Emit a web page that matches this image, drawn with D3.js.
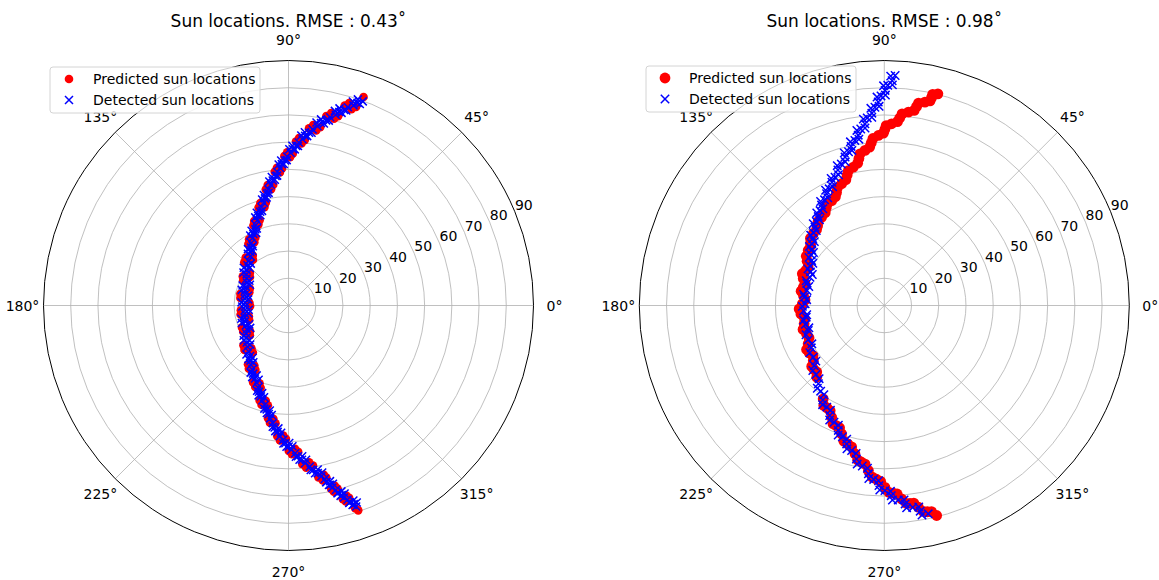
<!DOCTYPE html>
<html>
<head>
<meta charset="utf-8">
<script src="https://cdn.jsdelivr.net/npm/d3@7"></script>
<style>
    body { margin: 0; background: #fff; }
    text { font-family: "DejaVu Sans", sans-serif; fill: #000; }
</style>
</head>
<body>
<div id="chart"></div>
<script>
// [azimuth deg, zenith deg]
var leftPredicted = [
    [70.2,81.4],[72.2,75.7],[74.3,76.3],[76.3,70.6],[78.7,71.0],[81.0,65.1],[83.4,65.5],[85.4,59.7],[87.4,60.3],[89.4,54.5],[91.6,54.9],[93.7,49.0],[95.9,49.4],[98.5,43.2],[101.1,43.4],[103.7,37.2],[107.0,37.6],[110.4,31.7],[113.7,32.1],[118.4,26.4],[123.1,27.0],[127.8,21.3],[135.7,22.7],[143.5,17.6],[151.4,19.0],[161.2,15.2],[171.1,17.9],[180.9,14.1],[190.6,17.9],[200.3,15.4],[210.0,19.2],[217.6,17.9],[225.3,23.0],[232.9,21.7],[237.9,27.4],[242.8,26.6],[247.8,32.3],[251.3,31.9],[254.8,37.8],[258.3,37.4],[261.0,43.6],[263.7,43.5],[266.4,49.7],[268.9,49.0],[271.3,54.6],[273.8,53.9],[276.2,59.9],[278.7,59.5],[281.1,65.5],[282.4,64.7],[283.7,70.4],[285.0,69.6],[286.3,75.0],[287.5,74.1],[288.8,79.5],
    [71.2,77.0],[73.3,77.6],[75.3,71.9],[77.5,72.4],[79.9,66.5],[82.2,66.9],[84.4,61.0],[86.4,61.6],[88.4,55.8],[90.5,56.3],[92.7,50.4],[94.8,50.8],[97.2,44.7],[99.8,44.9],[102.4,38.7],[105.4,39.0],[108.7,33.1],[112.1,33.5],[116.1,27.7],[120.8,28.3],[125.5,22.6],[131.8,23.6],[139.6,18.6],[147.5,19.9],[156.3,15.5],[166.2,18.2],[176.0,14.4],[185.8,17.6],[195.5,15.1],[205.2,18.9],[213.8,17.0],[221.5,22.1],[229.1,20.8],[235.4,26.2],[240.4,25.4],[245.3,31.1],[249.6,30.5],[253.1,36.5],[256.6,36.0],[259.7,42.1],[262.4,42.0],[265.1,48.2],[267.7,47.8],[270.1,53.4],[272.6,52.7],[275.0,58.5],[277.5,58.1],[279.9,64.1],[281.8,63.5],[283.1,69.2],[284.4,68.4],[285.7,73.9],[286.9,73.0],[288.2,78.4]
];
var leftDetected = [
    [70.5,78.5],[72.5,78.6],[74.6,73.4],[76.6,73.5],[79.0,68.1],[81.3,68.0],[83.7,62.6],[85.7,62.6],[87.7,57.4],[89.7,57.4],[91.9,52.0],[94.0,51.9],[96.2,46.5],[98.8,46.1],[101.4,40.5],[104.0,40.1],[107.3,34.7],[110.7,34.6],[114.0,29.2],[118.7,29.3],[123.4,24.1],[128.1,24.2],[136.0,19.8],[143.8,20.5],[151.7,16.1],[161.5,18.1],[171.4,15.0],[181.2,17.0],[190.9,15.0],[200.6,18.3],[210.3,16.3],[217.9,20.8],[225.6,20.1],[233.2,24.6],[238.2,24.5],[243.1,29.5],[248.1,29.4],[251.6,34.8],[255.1,34.9],[258.6,40.3],[261.3,40.7],[264.0,46.4],[266.7,46.8],[269.2,51.9],[271.6,51.7],[274.1,56.8],[276.5,57.0],[279.0,62.4],[281.4,62.6],[282.7,67.6],[284.0,67.5],[285.3,72.5],[286.6,72.1],[287.8,77.0],[289.1,76.6],
    [71.4,79.9],[73.5,74.7],[75.5,74.8],[77.7,69.5],[80.1,69.4],[82.4,64.0],[84.6,63.9],[86.6,58.7],[88.6,58.7],[90.7,53.4],[92.9,53.3],[95.0,47.9],[97.4,47.6],[100.0,42.0],[102.6,41.6],[105.6,36.1],[108.9,36.0],[112.3,30.6],[116.3,30.6],[121.0,25.4],[125.7,25.5],[132.0,20.7],[139.8,21.5],[147.7,17.0],[156.5,18.4],[166.4,15.3],[176.2,17.3],[186.0,14.7],[195.7,18.0],[205.4,16.0],[214.0,19.9],[221.7,19.2],[229.3,23.7],[235.6,23.3],[240.6,28.3],[245.5,28.2],[249.8,33.4],[253.3,33.6],[256.8,38.9],[259.9,39.2],[262.6,44.9],[265.3,45.3],[267.9,50.7],[270.3,50.5],[272.8,55.6],[275.2,55.6],[277.7,61.0],[280.1,61.2],[282.0,66.4],[283.3,66.3],[284.6,71.3],[285.9,71.0],[287.1,75.9],[288.4,75.5],
    [70.0,79.8],[72.0,77.3],[74.1,74.7],[76.1,72.2],[78.5,69.4],[80.8,66.7],[83.2,63.9],[85.2,61.3],[87.2,58.7],[89.2,56.1],[91.4,53.3],[93.5,50.6],[95.7,47.8],[98.3,44.8],[100.9,41.8],[103.5,38.8],[106.8,36.0],[110.2,33.3],[113.5,30.5],[118.2,28.0],[122.9,25.4],[127.6,22.9],[135.5,21.1],[143.3,19.2],[151.2,17.4],[161.0,16.8],[170.9,16.3],[180.7,15.7],[190.4,16.3],[200.1,17.0],[209.8,17.6],[217.4,19.5],[225.1,21.4],[232.7,23.3],[237.7,25.8],[242.6,28.2],[247.6,30.7],[251.1,33.5],[254.6,36.2],[258.1,39.0],[260.8,42.0],[263.5,45.1],[266.2,48.1],[268.7,50.6],[271.1,53.0],[273.6,55.5],[276.0,58.3],[278.5,61.1],[280.9,63.9],[282.2,66.3],[283.5,68.8],[284.8,71.2],[286.1,73.4],[287.3,75.7],[288.6,77.9],
    [71.2,78.6],[73.3,76.0],[75.3,73.5],[77.5,70.8],[79.9,68.1],[82.2,65.3],[84.4,62.6],[86.4,60.0],[88.4,57.4],[90.5,54.7],[92.7,52.0],[94.8,49.2],[97.2,46.3],[99.8,43.3],[102.4,40.3],[105.4,37.4],[108.7,34.7],[112.1,31.9],[116.1,29.3],[120.8,26.7],[125.5,24.2],[131.8,22.0],[139.6,20.2],[147.5,18.3],[156.3,17.1],[166.2,16.6],[176.0,16.0],[185.8,16.0],[195.5,16.7],[205.2,17.3],[213.8,18.6],[221.5,20.5],[229.1,22.4],[235.4,24.6],[240.4,27.0],[245.3,29.5],[249.6,32.1],[253.1,34.9],[256.6,37.6],[259.7,40.5],[262.4,43.6],[265.1,46.6],[267.7,49.4],[270.1,51.8],[272.6,54.3],[275.0,56.9],[277.5,59.7],[279.9,62.5],[281.8,65.1],[283.1,67.6],[284.4,70.0],[285.7,72.3],[286.9,74.6],[288.2,76.8]
];

var rightPredicted = [
    [75.8,80.2],[77.2,78.3],[78.7,76.2],[80.8,74.0],[82.9,71.6],[85.3,69.1],[87.7,66.8],[89.8,64.7],[92.0,62.5],[94.6,59.9],[97.1,57.4],[99.8,54.8],[102.6,52.1],[105.9,49.8],[109.3,47.4],[112.9,45.1],[116.6,43.1],[120.9,41.6],[125.3,39.8],[129.9,38.2],[134.7,37.1],[139.4,35.6],[144.1,34.5],[150.1,32.7],[156.0,31.6],[161.5,31.4],[167.3,30.5],[173.1,29.9],[178.8,30.1],[185.8,30.8],[192.9,30.2],[199.8,30.4],[206.7,31.3],[212.3,32.6],[217.8,33.0],[222.2,34.9],[226.7,36.2],[236.8,41.0],[240.8,43.1],[244.8,45.4],[248.2,47.5],[251.6,49.7],[255.2,52.6],[258.8,55.5],[261.6,58.1],[264.5,60.9],[267.4,63.9],[270.2,66.8],[272.7,69.0],[275.1,71.3],[277.4,73.3],[279.6,75.1],[281.8,77.4],[284.0,79.5],
    [77.1,79.6],[77.4,77.0],[80.4,75.4],[81.3,72.5],[84.7,70.7],[85.9,67.7],[89.4,66.1],[90.3,63.3],[93.9,61.5],[95.3,58.4],[99.1,56.4],[100.6,53.2],[104.9,51.3],[107.0,48.3],[111.7,46.6],[114.2,43.8],[119.4,42.7],[122.5,40.4],[128.2,39.3],[131.7,37.4],[137.7,36.7],[141.2,34.8],[147.7,33.9],[153.1,31.4],[158.8,32.3],[164.4,30.2],[170.2,31.0],[176.0,29.2],[182.3,31.3],[189.4,29.7],[196.4,31.1],[203.3,30.1],[209.5,32.8],[215.1,32.0],[220.0,34.8],[224.5,34.8],[238.8,42.9],[242.8,43.5],[246.5,47.3],[249.9,47.8],[253.4,52.0],[257.0,53.3],[260.2,57.6],[263.1,58.7],[266.0,63.2],[268.8,64.6],[271.5,68.7],[273.9,69.4],[276.3,73.1],[278.5,73.4],[280.7,77.0],[282.9,77.7]
];
var rightDetected = [
    [87.3,84.6],[88.0,82.6],[89.1,80.9],[89.8,79.0],[90.9,77.0],[91.7,74.8],[92.7,72.9],[93.7,70.8],[95.2,69.2],[96.1,67.1],[97.6,65.4],[98.7,63.3],[100.1,61.6],[101.8,59.7],[103.1,58.0],[104.8,56.4],[106.9,54.3],[108.9,52.6],[111.0,50.5],[113.0,49.2],[115.3,47.4],[117.3,46.2],[119.5,44.6],[122.0,43.5],[124.1,42.1],[126.6,40.7],[129.0,39.7],[131.5,38.4],[134.2,37.4],[136.9,36.0],[139.6,35.0],[142.5,33.6],[145.3,32.7],[148.2,31.4],[151.9,30.9],[155.5,29.8],[159.2,29.2],[164.1,29.6],[169.0,28.9],[173.9,29.5],[178.8,29.1],[183.7,29.7],[188.5,29.0],[193.4,29.8],[198.2,29.4],[204.2,30.6],[210.1,31.0],[216.1,32.3],[220.7,33.9],[225.3,35.7],[229.9,37.6],[233.4,39.2],[237.0,41.4],[240.5,42.9],[243.6,45.1],[246.7,46.7],[249.8,48.9],[252.3,50.6],[254.8,52.7],[257.3,54.6],[259.7,57.3],[262.2,59.5],[264.6,62.1],[266.5,64.0],[268.3,66.2],[270.2,68.0],[272.1,69.9],[274.1,71.6],[276.0,73.3],[278.0,74.9],[279.9,76.7],[281.9,78.2],
    [88.4,84.3],[87.9,81.1],[90.2,80.7],[89.7,77.3],[92.0,76.6],[91.5,73.2],[93.9,72.6],[93.8,69.3],[96.4,68.9],[96.2,65.6],[98.9,65.1],[98.7,61.8],[101.7,61.4],[101.8,58.2],[104.7,57.9],[105.2,54.7],[108.6,54.2],[109.3,50.9],[112.7,50.6],[113.5,47.6],[117.0,47.5],[117.7,44.7],[121.5,44.8],[122.4,42.1],[126.1,42.1],[127.1,39.5],[131.0,39.8],[132.2,37.2],[136.3,37.4],[137.6,34.8],[141.8,35.0],[143.2,32.5],[147.5,32.8],[149.4,30.5],[154.4,31.1],[156.7,28.8],[162.4,30.1],[165.9,28.6],[172.2,29.9],[175.7,28.6],
    [180.6,30.1],[186.8,28.7],[190.3,30.1],[196.5,28.9],[200.5,30.7],[207.9,30.1],[212.4,32.4],[219.1,32.4],[222.3,35.5],[228.3,36.0],[231.0,39.1],[235.9,39.6],[238.1,42.9],[242.8,43.3],[244.5,46.6],[249.0,47.1],[250.4,50.5],[254.3,51.0],[255.4,54.4],[259.2,55.3],[260.3,59.1],[264.1,60.1],[264.9,63.8],[268.1,64.4],[268.6,67.8],[271.9,68.3],[272.4,71.5],[275.8,71.8],[276.3,74.8],[279.7,75.1],[280.2,78.2]
];

var titles      = ['Sun locations. RMSE : 0.43\u02DA', 'Sun locations. RMSE : 0.98\u02DA'];
var legendNames = ['Predicted sun locations', 'Detected sun locations'];
var radialTicks = [10, 20, 30, 40, 50, 60, 70, 80, 90];
var angleTicks  = [0, 45, 90, 135, 180, 225, 270, 315];

var panels = [
    { cx: 288.5, cy: 305.5, title: titles[0], pred: leftPredicted,  det: leftDetected,  dot: 4.3, cross: 4.0, legend: { x: 50,  y: 67 } },
    { cx: 884.3, cy: 305.5, title: titles[1], pred: rightPredicted, det: rightDetected, dot: 5.4, cross: 4.2, legend: { x: 646, y: 66 } }
];

var svg = d3.select('#chart').append('svg')
    .attr('width', 1159)
    .attr('height', 580);

var r = d3.scaleLinear().domain([0, 90]).range([0, 245]);
// azimuth in degrees (ccw from east) -> d3 radial angle (cw from north)
var a = d3.scaleLinear().domain([0, 360]).range([Math.PI / 2, Math.PI / 2 - 2 * Math.PI]);

function cross(s) {
    return 'M' + -s + ',' + -s + 'L' + s + ',' + s + 'M' + -s + ',' + s + 'L' + s + ',' + -s;
}

panels.forEach(p => {
    var g = svg.append('g').attr('transform', 'translate(' + p.cx + ',' + p.cy + ')');

    g.selectAll('.ring')
        .data(radialTicks.slice(0, -1))
        .enter().append('circle')
        .attr('r', d => r(d))
        .attr('fill', 'none')
        .attr('stroke', '#b0b0b0')
        .attr('stroke-width', 0.8);

    g.selectAll('.spoke')
        .data(angleTicks)
        .enter().append('line')
        .attr('x1', 0).attr('y1', 0)
        .attr('x2', d => d3.pointRadial(a(d), r(90))[0])
        .attr('y2', d => d3.pointRadial(a(d), r(90))[1])
        .attr('stroke', '#b0b0b0')
        .attr('stroke-width', 0.8);

    g.append('circle')
        .attr('r', r(90))
        .attr('fill', 'none')
        .attr('stroke', '#000')
        .attr('stroke-width', 1);

    g.selectAll('.alabel')
        .data(angleTicks)
        .enter().append('text')
        .attr('x', d => d3.pointRadial(a(d), r(90) + 21)[0])
        .attr('y', d => d3.pointRadial(a(d), r(90) + 21)[1])
        .attr('text-anchor', 'middle')
        .attr('dominant-baseline', 'central')
        .attr('font-size', 14)
        .text(d => d + '\u00B0');

    g.selectAll('.rlabel')
        .data(radialTicks)
        .enter().append('text')
        .attr('x', d => d3.pointRadial(a(22.5), r(d))[0] + 9)
        .attr('y', d => d3.pointRadial(a(22.5), r(d))[1] - 7)
        .attr('text-anchor', 'middle')
        .attr('dominant-baseline', 'central')
        .attr('font-size', 14)
        .text(d => d);

    g.selectAll('.pred')
        .data(p.pred)
        .enter().append('circle')
        .attr('cx', d => d3.pointRadial(a(d[0]), r(d[1]))[0])
        .attr('cy', d => d3.pointRadial(a(d[0]), r(d[1]))[1])
        .attr('r', p.dot)
        .attr('fill', 'red');

    g.selectAll('.det')
        .data(p.det)
        .enter().append('path')
        .attr('transform', d => 'translate(' + d3.pointRadial(a(d[0]), r(d[1])) + ')')
        .attr('d', cross(p.cross))
        .attr('stroke', 'blue')
        .attr('stroke-width', 1.5)
        .attr('fill', 'none');

    svg.append('text')
        .attr('x', p.cx)
        .attr('y', 26.5)
        .attr('text-anchor', 'middle')
        .attr('font-size', 17)
        .text(p.title);

    // legend
    var lg = svg.append('g').attr('transform', 'translate(' + p.legend.x + ',' + p.legend.y + ')');
    lg.append('rect')
        .attr('width', 210).attr('height', 46)
        .attr('rx', 3)
        .attr('fill', '#fff').attr('fill-opacity', 0.8)
        .attr('stroke', '#d4d4d4');
    lg.append('circle')
        .attr('cx', 19).attr('cy', 12)
        .attr('r', p.dot)
        .attr('fill', 'red');
    lg.append('path')
        .attr('transform', 'translate(19,33)')
        .attr('d', cross(p.cross))
        .attr('stroke', 'blue')
        .attr('stroke-width', 1.5);
    lg.selectAll('.lt')
        .data(legendNames)
        .enter().append('text')
        .attr('x', 43)
        .attr('y', (d, i) => 12 + i * 21)
        .attr('dominant-baseline', 'central')
        .attr('font-size', 14)
        .text(d => d);
});
</script>
</body>
</html>
